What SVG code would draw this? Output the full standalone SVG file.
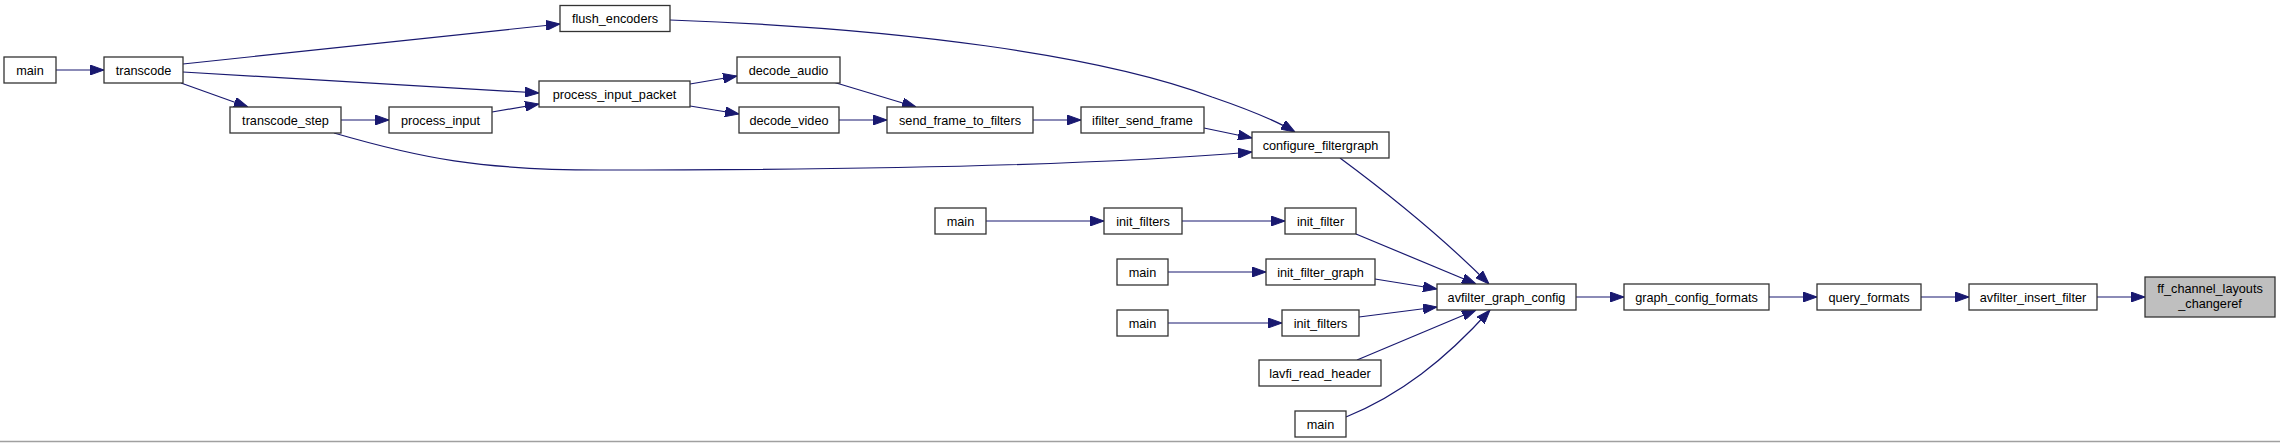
<svg xmlns="http://www.w3.org/2000/svg" width="2280" height="443" viewBox="0 0 2280 443">
<style>
.n rect{fill:#fff;stroke:#333;stroke-width:1.3}
.n text{font-family:"Liberation Sans",Arial,sans-serif;font-size:12.7px;fill:#000;text-anchor:middle}
.e path{fill:none;stroke:#191970;stroke-width:1.2;marker-end:url(#ah)}
</style>
<defs>
<marker id="ah" markerUnits="userSpaceOnUse" markerWidth="14" markerHeight="10" refX="14" refY="5" orient="auto" viewBox="0 0 14 10">
<path d="M0,0 L14,5 L0,10 z" fill="#191970" stroke="#191970"/>
</marker>
</defs>
<rect x="0" y="0" width="2280" height="443" fill="#fff"/>
<line x1="0" y1="441.5" x2="2280" y2="441.5" stroke="#a0a0a0" stroke-width="1.5"/>
<g class="e" id="edges">
<path d="M56,70 L104,70"/>
<path d="M183,64 L560,24"/>
<path d="M183,72 L539,93"/>
<path d="M181,83 L248,107"/>
<path d="M341,120 L389,120"/>
<path d="M492,112 L539,104"/>
<path d="M690,84 L737,76"/>
<path d="M690,106 L739,114"/>
<path d="M833,82 L916,107"/>
<path d="M839,120 L887,120"/>
<path d="M1033,120 L1081,120"/>
<path d="M1204,128 L1252,138"/>
<path d="M670,20 C900,28 1100,55 1212,97 C1250,110 1275,120 1295,132"/>
<path d="M334,133 C420,158 480,170 600,170 C850,170 1100,165 1252,152"/>
<path d="M1340,158 C1390,195 1445,240 1489,284"/>
<path d="M986,221 L1104,221"/>
<path d="M1182,221 L1285,221"/>
<path d="M1356,234 L1476,284"/>
<path d="M1168,272 L1266,272"/>
<path d="M1375,279 L1437,289"/>
<path d="M1168,323 L1282,323"/>
<path d="M1359,317 L1437,307"/>
<path d="M1357,360 L1476,310"/>
<path d="M1346,417 C1400,395 1445,360 1490,310"/>
<path d="M1576,297 L1624,297"/>
<path d="M1769,297 L1817,297"/>
<path d="M1921,297 L1969,297"/>
<path d="M2097,297 L2145,297"/>
</g>
<g class="n" id="n_main1"><rect x="4" y="57" width="52" height="26"/><text x="30" y="74.5">main</text></g>
<g class="n" id="n_transcode"><rect x="104" y="57" width="79" height="26"/><text x="143.5" y="74.5">transcode</text></g>
<g class="n" id="n_flush_encoders"><rect x="560" y="5.5" width="110" height="26"/><text x="615" y="23">flush_encoders</text></g>
<g class="n" id="n_process_input_packet"><rect x="539" y="81" width="151" height="26"/><text x="614.5" y="98.5">process_input_packet</text></g>
<g class="n" id="n_decode_audio"><rect x="737" y="57" width="103" height="26"/><text x="788.5" y="74.5">decode_audio</text></g>
<g class="n" id="n_decode_video"><rect x="739" y="107" width="100" height="26"/><text x="789" y="124.5">decode_video</text></g>
<g class="n" id="n_transcode_step"><rect x="230" y="107" width="111" height="26"/><text x="285.5" y="124.5">transcode_step</text></g>
<g class="n" id="n_process_input"><rect x="389" y="107" width="103" height="26"/><text x="440.5" y="124.5">process_input</text></g>
<g class="n" id="n_send_frame_to_filters"><rect x="887" y="107" width="146" height="26"/><text x="960" y="124.5">send_frame_to_filters</text></g>
<g class="n" id="n_ifilter_send_frame"><rect x="1081" y="107" width="123" height="26"/><text x="1142.5" y="124.5">ifilter_send_frame</text></g>
<g class="n" id="n_configure_filtergraph"><rect x="1252" y="132" width="137" height="26"/><text x="1320.5" y="149.5">configure_filtergraph</text></g>
<g class="n" id="n_main2"><rect x="935" y="208" width="51" height="26"/><text x="960.5" y="225.5">main</text></g>
<g class="n" id="n_init_filters1"><rect x="1104" y="208" width="78" height="26"/><text x="1143" y="225.5">init_filters</text></g>
<g class="n" id="n_init_filter"><rect x="1285" y="208" width="71" height="26"/><text x="1320.5" y="225.5">init_filter</text></g>
<g class="n" id="n_main3"><rect x="1117" y="259" width="51" height="26"/><text x="1142.5" y="276.5">main</text></g>
<g class="n" id="n_init_filter_graph"><rect x="1266" y="259" width="109" height="26"/><text x="1320.5" y="276.5">init_filter_graph</text></g>
<g class="n" id="n_main4"><rect x="1117" y="310" width="51" height="26"/><text x="1142.5" y="327.5">main</text></g>
<g class="n" id="n_init_filters2"><rect x="1282" y="310" width="77" height="26"/><text x="1320.5" y="327.5">init_filters</text></g>
<g class="n" id="n_lavfi_read_header"><rect x="1259" y="360" width="122" height="26"/><text x="1320" y="377.5">lavfi_read_header</text></g>
<g class="n" id="n_main5"><rect x="1295" y="411" width="51" height="26"/><text x="1320.5" y="428.5">main</text></g>
<g class="n" id="n_avfilter_graph_config"><rect x="1437" y="284" width="139" height="26"/><text x="1506.5" y="301.5">avfilter_graph_config</text></g>
<g class="n" id="n_graph_config_formats"><rect x="1624" y="284" width="145" height="26"/><text x="1696.5" y="301.5">graph_config_formats</text></g>
<g class="n" id="n_query_formats"><rect x="1817" y="284" width="104" height="26"/><text x="1869" y="301.5">query_formats</text></g>
<g class="n" id="n_avfilter_insert_filter"><rect x="1969" y="284" width="128" height="26"/><text x="2033" y="301.5">avfilter_insert_filter</text></g>
<g class="n" id="n_ff_channel_layouts_changeref"><rect x="2145" y="277" width="130" height="40" style="fill:#bfbfbf"/><text x="2210" y="293">ff_channel_layouts</text><text x="2210" y="308">_changeref</text></g>
</svg>
